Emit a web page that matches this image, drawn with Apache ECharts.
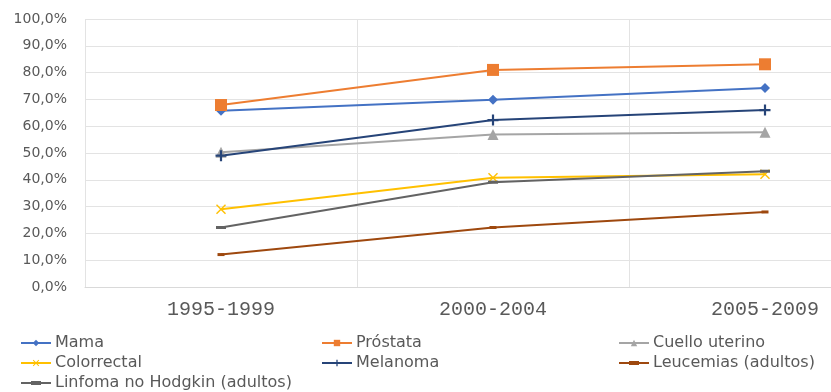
<!DOCTYPE html>
<html>
<head>
<meta charset="utf-8">
<script src="https://cdn.jsdelivr.net/npm/echarts@6/dist/echarts.min.js"></script>
<style>
  html, body { margin: 0; padding: 0; background: #ffffff; }
  #chart { width: 831px; height: 392px; }
</style>
</head>
<body>
<div id="chart"></div>
<script>
// Periods on the category axis
const periods = ['1995-1999', '2000-2004', '2005-2009'];

// Survival (%) by cancer site and period
const mama = [65.8, 69.9, 74.3];
const prostata = [67.9, 81.0, 83.1];
const cuelloUterino = [50.3, 56.9, 57.7];
const colorrectal = [29.0, 40.8, 42.1];
const melanoma = [49.0, 62.3, 66.0];
const leucemias = [12.1, 22.2, 28.0];
const linfoma = [22.2, 39.1, 43.2];

const plusPath = 'path://M4,0 L6,0 L6,4 L10,4 L10,6 L6,6 L6,10 L4,10 L4,6 L0,6 L0,4 L4,4 Z';
const crossPath = 'path://M0,1 L1,0 L5,4 L9,0 L10,1 L6,5 L10,9 L9,10 L5,6 L1,10 L0,9 L4,5 Z';
const dashPath = 'path://M0,0 L10,0 L10,3 L0,3 Z';
// Legend key: thin line with a short thick bar in the middle
const dashKey = 'path://M0,1 L30,1 L30,3 L0,3 Z M10,0 L20,0 L20,4 L10,4 Z';

function lineSeries(name, data, color, symbol, size) {
  return {
    name: name,
    type: 'line',
    data: data,
    symbol: symbol,
    symbolSize: size,
    showSymbol: true,
    lineStyle: { color: color, width: 2 },
    itemStyle: { color: color, borderWidth: 0 },
    emphasis: { disabled: true },
    animation: false
  };
}

const textColor = '#595959';
const legendCommon = {
  orient: 'vertical',
  top: 335,
  padding: 0,
  itemGap: 4,
  itemWidth: 30,
  itemHeight: 8,
  symbolKeepAspect: true,
  textStyle: { fontFamily: 'DejaVu Sans', fontSize: 16, lineHeight: 16, color: textColor, padding: [0, 0, 0, -1] },
  selectedMode: false
};

const chart = echarts.init(document.getElementById('chart'), null, { renderer: 'canvas' });
chart.setOption({
  backgroundColor: '#ffffff',
  animation: false,
  grid: { left: 85, top: 19, width: 816, height: 268, outerBoundsMode: 'none', containLabel: false },
  xAxis: {
    type: 'category',
    data: periods,
    boundaryGap: true,
    axisLine: { show: true, lineStyle: { color: '#d9d9d9', width: 1 } },
    axisTick: { show: false },
    splitLine: { show: true, lineStyle: { color: '#e3e3e3', width: 1 } },
    axisLabel: { color: textColor, fontFamily: 'Liberation Mono', fontSize: 20, margin: 13 }
  },
  yAxis: {
    type: 'value',
    min: 0,
    max: 100,
    interval: 10,
    axisLine: { show: false },
    axisTick: { show: false },
    splitLine: { lineStyle: { color: '#e3e3e3', width: 1 } },
    axisLabel: {
      color: textColor,
      fontFamily: 'DejaVu Sans',
      fontSize: 14,
      margin: 18,
      formatter: function (v) { return v.toFixed(1).replace('.', ',') + '%'; }
    }
  },
  legend: [
    Object.assign({ left: 20, data: ['Mama', 'Colorrectal', { name: 'Linfoma no Hodgkin (adultos)', icon: dashKey }] }, legendCommon),
    Object.assign({ left: 321, data: ['Próstata', 'Melanoma'] }, legendCommon),
    Object.assign({ left: 618, data: ['Cuello uterino', { name: 'Leucemias (adultos)', icon: dashKey }] }, legendCommon)
  ],
  series: [
    lineSeries('Mama', mama, '#4472C4', 'diamond', 10),
    lineSeries('Próstata', prostata, '#ED7D31', 'rect', 12),
    lineSeries('Cuello uterino', cuelloUterino, '#A5A5A5', 'triangle', 11),
    lineSeries('Colorrectal', colorrectal, '#FFC000', crossPath, 10),
    lineSeries('Melanoma', melanoma, '#264478', plusPath, 11),
    lineSeries('Leucemias (adultos)', leucemias, '#9E480E', dashPath, [7, 3]),
    lineSeries('Linfoma no Hodgkin (adultos)', linfoma, '#636363', dashPath, [10, 3])
  ]
});
</script>
</body>
</html>
